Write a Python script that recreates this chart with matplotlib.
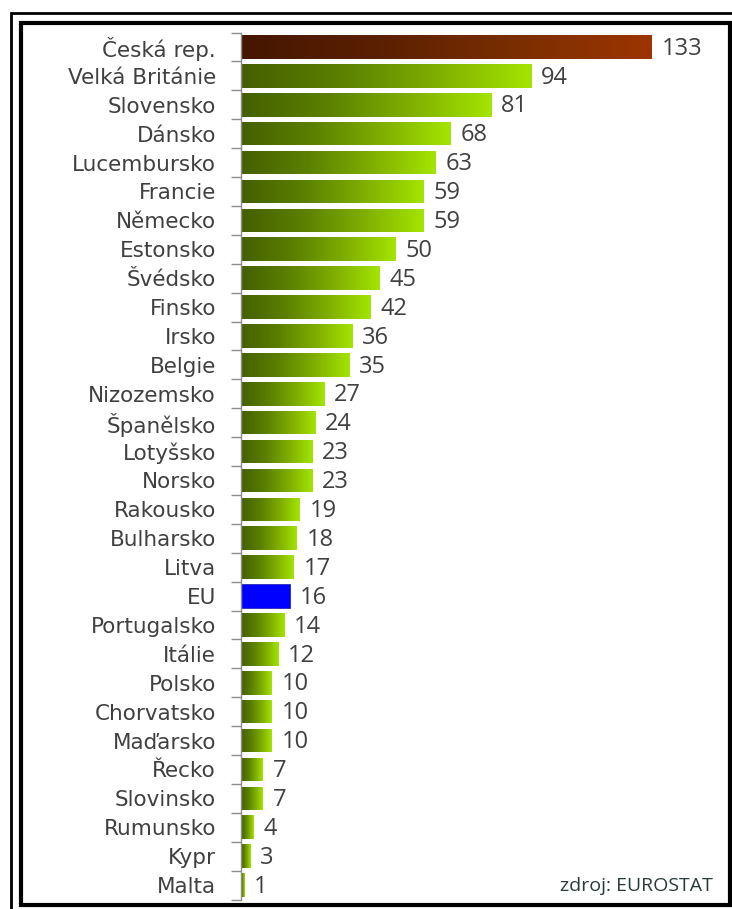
import numpy as np
import matplotlib
matplotlib.use("Agg")
import matplotlib.pyplot as plt
from matplotlib.colors import LinearSegmentedColormap
from matplotlib.patches import Rectangle

countries = ["Česká rep.", "Velká Británie", "Slovensko", "Dánsko", "Lucembursko",
             "Francie", "Německo", "Estonsko", "Švédsko", "Finsko", "Irsko", "Belgie",
             "Nizozemsko", "Španělsko", "Lotyšsko", "Norsko", "Rakousko", "Bulharsko",
             "Litva", "EU", "Portugalsko", "Itálie", "Polsko", "Chorvatsko", "Maďarsko",
             "Řecko", "Slovinsko", "Rumunsko", "Kypr", "Malta"]
values = [133, 94, 81, 68, 63, 59, 59, 50, 45, 42, 36, 35, 27, 24, 23, 23, 19, 18,
          17, 16, 14, 12, 10, 10, 10, 7, 7, 4, 3, 1]
source = "zdroj: EUROSTAT"

plt.rcParams['font.family'] = ['Open Sans', 'DejaVu Sans']

W, H = 732, 909
fig = plt.figure(figsize=(W / 100, H / 100), dpi=100)

# axes placed in pixel terms
left_px, right_px = 241, 241 + 150 * 3.088
top_px, bot_px = 32.5, 899.5
ax = fig.add_axes([left_px / W, 1 - bot_px / H, (right_px - left_px) / W, (bot_px - top_px) / H])

green = LinearSegmentedColormap.from_list("g", ["#455f00", "#5a7f00", "#7fad00", "#a3e500"])
brown = LinearSegmentedColormap.from_list("b", ["#461600", "#5a2000", "#7a2e00", "#9c3500"])
grad = np.linspace(0, 1, 256).reshape(1, -1)

y = np.arange(len(countries))
bars = ax.barh(y, values, height=0.82, color="none", edgecolor="none", zorder=2)
for i, (bar, v) in enumerate(zip(bars, values)):
    x0, y0 = bar.get_x(), bar.get_y()
    w, h = bar.get_width(), bar.get_height()
    if countries[i] == "EU":
        bar.set_facecolor("#0000ff")
        bar.set_edgecolor("#2a2ab0")
        bar.set_linewidth(0.6)
    else:
        cmap = brown if i == 0 else green
        im = ax.imshow(grad, extent=[x0, x0 + w, y0, y0 + h], cmap=cmap,
                       aspect="auto", interpolation="bilinear", zorder=2)
        im.set_clip_path(bar)
    ax.text(v + 3.2, i + 0.06, str(v), va="center", ha="left", fontsize=17, color="#404040")

ax.set_xlim(0, 150)
ax.set_ylim(len(countries) - 0.5, -0.5)

ax.set_yticks(y)
ax.set_yticklabels(countries, fontsize=15.5, color="#404040", family="DejaVu Sans")
ax.set_yticks(np.arange(len(countries) + 1) - 0.5, minor=True)
ax.tick_params(axis="y", which="major", length=0, pad=18)
ax.tick_params(axis="y", which="minor", length=7, width=1, color="#8c8c8c")
ax.set_xticks([])
for s in ["top", "right", "bottom"]:
    ax.spines[s].set_visible(False)
ax.spines["left"].set_color("#8c8c8c")
ax.spines["left"].set_linewidth(1)
ax.patch.set_alpha(0)

fig.text(713 / W, 1 - 886 / H, source, ha="right", va="center", fontsize=14, color="#2b3a3a")

# double frame
fig.add_artist(Rectangle((10.5 / W, -0.05), 1.1, 1 - 12.5 / H + 0.05, transform=fig.transFigure,
                         fill=False, edgecolor="black", linewidth=2.0))
fig.add_artist(Rectangle((21 / W, 1 - 905 / H), (729.5 - 21) / W, (905 - 23) / H,
                         transform=fig.transFigure, fill=False, edgecolor="black", linewidth=3.0))

fig.savefig("out.png", dpi=100)
